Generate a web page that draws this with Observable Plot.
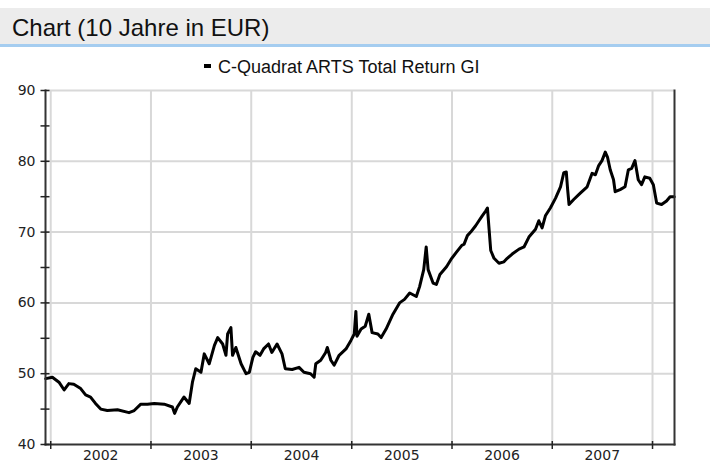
<!DOCTYPE html>
<html>
<head>
<meta charset="utf-8">
<script src="https://cdn.jsdelivr.net/npm/d3@7"></script>
<script src="https://cdn.jsdelivr.net/npm/@observablehq/plot@0.6"></script>
<style>
  html, body { margin: 0; padding: 0; background: #fff; }
  #page { position: relative; width: 710px; height: 464px; overflow: hidden; background: #fff; }
  #band { position: absolute; left: 0; top: 8px; width: 710px; height: 36px; background: #ececec; border-bottom: 3px solid #a5cdf0; }
  #title { position: absolute; left: 12px; top: 14px; font: 24px/28px "Liberation Sans", Arial, sans-serif; color: #111; white-space: nowrap; }
  #legend { position: absolute; left: 204px; top: 56px; font: 18px/22px "Liberation Sans", Arial, sans-serif; color: #111; white-space: nowrap; }
  #legend .sw { display: inline-block; width: 7px; height: 4px; background: #000; vertical-align: 5px; margin-right: 7px; }
  #chart { position: absolute; left: 0; top: 76px; }
</style>
</head>
<body>
<div id="page">
  <div id="band"></div>
  <div id="title">Chart (10 Jahre in EUR)</div>
  <div id="legend"><span class="sw"></span><span id="legendText"></span></div>
  <div id="chart"></div>
</div>
<script>
const seriesName = "C-Quadrat ARTS Total Return GI";

const dates = [
  "2001-12-14","2002-01-07","2002-01-31","2002-02-19","2002-03-08","2002-03-26","2002-04-20","2002-05-08",
  "2002-05-26","2002-06-13","2002-07-02","2002-07-26","2002-09-01","2002-10-13","2002-11-01","2002-11-25",
  "2002-12-19","2003-01-13","2003-02-18","2003-03-20","2003-03-28","2003-04-07","2003-05-01","2003-05-20",
  "2003-06-01","2003-06-13","2003-07-02","2003-07-14","2003-08-01","2003-08-20","2003-09-01","2003-09-19",
  "2003-10-01","2003-10-07","2003-10-19","2003-10-25","2003-11-06","2003-11-25","2003-12-13","2003-12-25",
  "2004-01-07","2004-01-17","2004-02-02","2004-02-15","2004-03-04","2004-03-16","2004-04-04","2004-04-22",
  "2004-05-04","2004-05-29","2004-06-23","2004-07-11","2004-08-04","2004-08-17","2004-08-23","2004-09-10",
  "2004-09-28","2004-10-04","2004-10-17","2004-10-29","2004-11-16","2004-12-11","2004-12-29","2005-01-10",
  "2005-01-16","2005-01-20","2005-02-04","2005-02-19","2005-03-04","2005-03-16","2005-04-06","2005-04-18",
  "2005-05-06","2005-05-31","2005-06-24","2005-07-12","2005-07-31","2005-08-24","2005-09-05","2005-09-20",
  "2005-09-29","2005-10-06","2005-10-24","2005-11-05","2005-11-18","2005-12-12","2005-12-31","2006-01-18",
  "2006-02-05","2006-02-14","2006-02-26","2006-03-10","2006-03-28","2006-04-09","2006-04-21","2006-05-04",
  "2006-05-10","2006-05-16","2006-05-22","2006-06-03","2006-06-21","2006-07-09","2006-07-21","2006-08-08",
  "2006-09-02","2006-09-20","2006-10-08","2006-11-01","2006-11-13","2006-11-25","2006-12-07","2006-12-25",
  "2007-01-13","2007-01-31","2007-02-12","2007-02-21","2007-02-26","2007-03-03","2007-03-20","2007-04-13",
  "2007-05-08","2007-05-26","2007-06-07","2007-06-19","2007-07-01","2007-07-13","2007-07-21","2007-07-31",
  "2007-08-12","2007-08-18","2007-09-05","2007-09-23","2007-10-05","2007-10-17","2007-10-29","2007-11-10",
  "2007-11-22","2007-12-04","2007-12-22","2008-01-04","2008-01-16","2008-02-03","2008-02-21","2008-03-05",
  "2008-03-20"
];
const values = [
  49.3,49.5,48.8,47.7,48.6,48.5,47.9,47.0,
  46.7,45.8,45.0,44.8,44.9,44.5,44.8,45.7,
  45.7,45.8,45.7,45.3,44.4,45.3,46.7,45.8,
  48.8,50.7,50.2,52.8,51.4,54.0,55.1,54.2,
  52.6,55.6,56.5,52.6,53.7,51.4,50.0,50.2,
  52.3,53.1,52.6,53.5,54.2,53.0,54.2,52.8,
  50.7,50.6,50.9,50.2,50.0,49.5,51.4,51.9,
  53.0,53.7,51.9,51.2,52.6,53.5,54.7,55.6,
  58.8,55.3,56.3,56.7,58.4,55.8,55.6,55.1,
  56.3,58.4,60.0,60.5,61.4,60.9,62.3,64.7,
  67.9,64.7,62.8,62.6,64.0,65.1,66.3,67.2,
  68.1,68.3,69.5,70.0,70.9,71.6,72.3,73.0,
  73.4,70.4,67.4,66.3,65.6,65.8,66.3,66.9,
  67.6,67.9,69.3,70.4,71.6,70.6,72.3,73.4,
  74.8,76.4,78.4,78.5,76.0,73.9,74.6,75.5,
  76.4,78.3,78.1,79.4,80.1,81.3,80.6,78.8,
  77.4,75.7,76.0,76.4,78.8,79.0,80.1,77.4,
  76.7,77.8,77.6,76.7,74.1,73.9,74.4,75.0,
  75.0
];

const xDomain = ["2001-12-13", "2008-03-21"];
const yearBounds = ["2002-01-01","2003-01-01","2004-01-01","2005-01-01","2006-01-01","2007-01-01","2008-01-01"];
const yearLabelDates = ["2002-07-02","2003-07-02","2004-07-02","2005-07-02","2006-07-02","2007-07-02"];
const yearLabels = ["2002","2003","2004","2005","2006","2007"];
const yTickValues = [40,45,50,55,60,65,70,75,80,85,90];
const yLabelValues = [40,50,60,70,80,90];
const yLabels = ["40","50","60","70","80","90"];
const yGridValues = [50,60,70,80,90];

document.getElementById("legendText").textContent = seriesName;

const parse = s => new Date(s + "T00:00:00Z");
const data = dates.map((d, i) => ({date: parse(d), value: values[i]}));
const bounds = yearBounds.map(parse);
const mids = yearLabelDates.map(parse);

const chart = Plot.plot({
  width: 710,
  height: 388,
  marginTop: 14,
  marginBottom: 20,
  marginLeft: 45,
  marginRight: 36,
  style: {fontFamily: "'DejaVu Sans', sans-serif", fontSize: "14px", color: "#222", background: "white"},
  x: {type: "utc", domain: xDomain.map(parse), label: null},
  y: {domain: [40, 90], label: null},
  marks: [
    Plot.gridX(bounds, {stroke: "#d8d8d8", strokeOpacity: 1, strokeWidth: 2}),
    Plot.gridY(yGridValues, {stroke: "#d8d8d8", strokeOpacity: 1, strokeWidth: 2}),
    Plot.line(data, {x: "date", y: "value", stroke: "#000", strokeWidth: 3, strokeLinejoin: "round"}),
    Plot.frame({anchor: "left", stroke: "#333", strokeWidth: 2}),
    Plot.frame({anchor: "bottom", stroke: "#333", strokeWidth: 2}),
    Plot.frame({anchor: "right", stroke: "#333", strokeWidth: 2}),
    Plot.axisY({ticks: yTickValues, tickSize: 9, dx: 4.5, tickFormat: () => "", label: null, stroke: "#222", strokeWidth: 1.5}),
    Plot.axisY({ticks: yLabelValues, tickSize: 0, tickPadding: 10, label: null, tickFormat: d => yLabels[yLabelValues.indexOf(d)]}),
    Plot.axisX({ticks: bounds, tickSize: 8, dy: -3, tickFormat: () => "", label: null, stroke: "#222", strokeWidth: 1.5}),
    Plot.axisX({ticks: mids, tickSize: 0, tickPadding: 6, fontSize: 14, label: null,
      tickFormat: d => yearLabels[mids.findIndex(m => +m === +d)]})
  ]
});
document.getElementById("chart").appendChild(chart);
</script>
</body>
</html>
